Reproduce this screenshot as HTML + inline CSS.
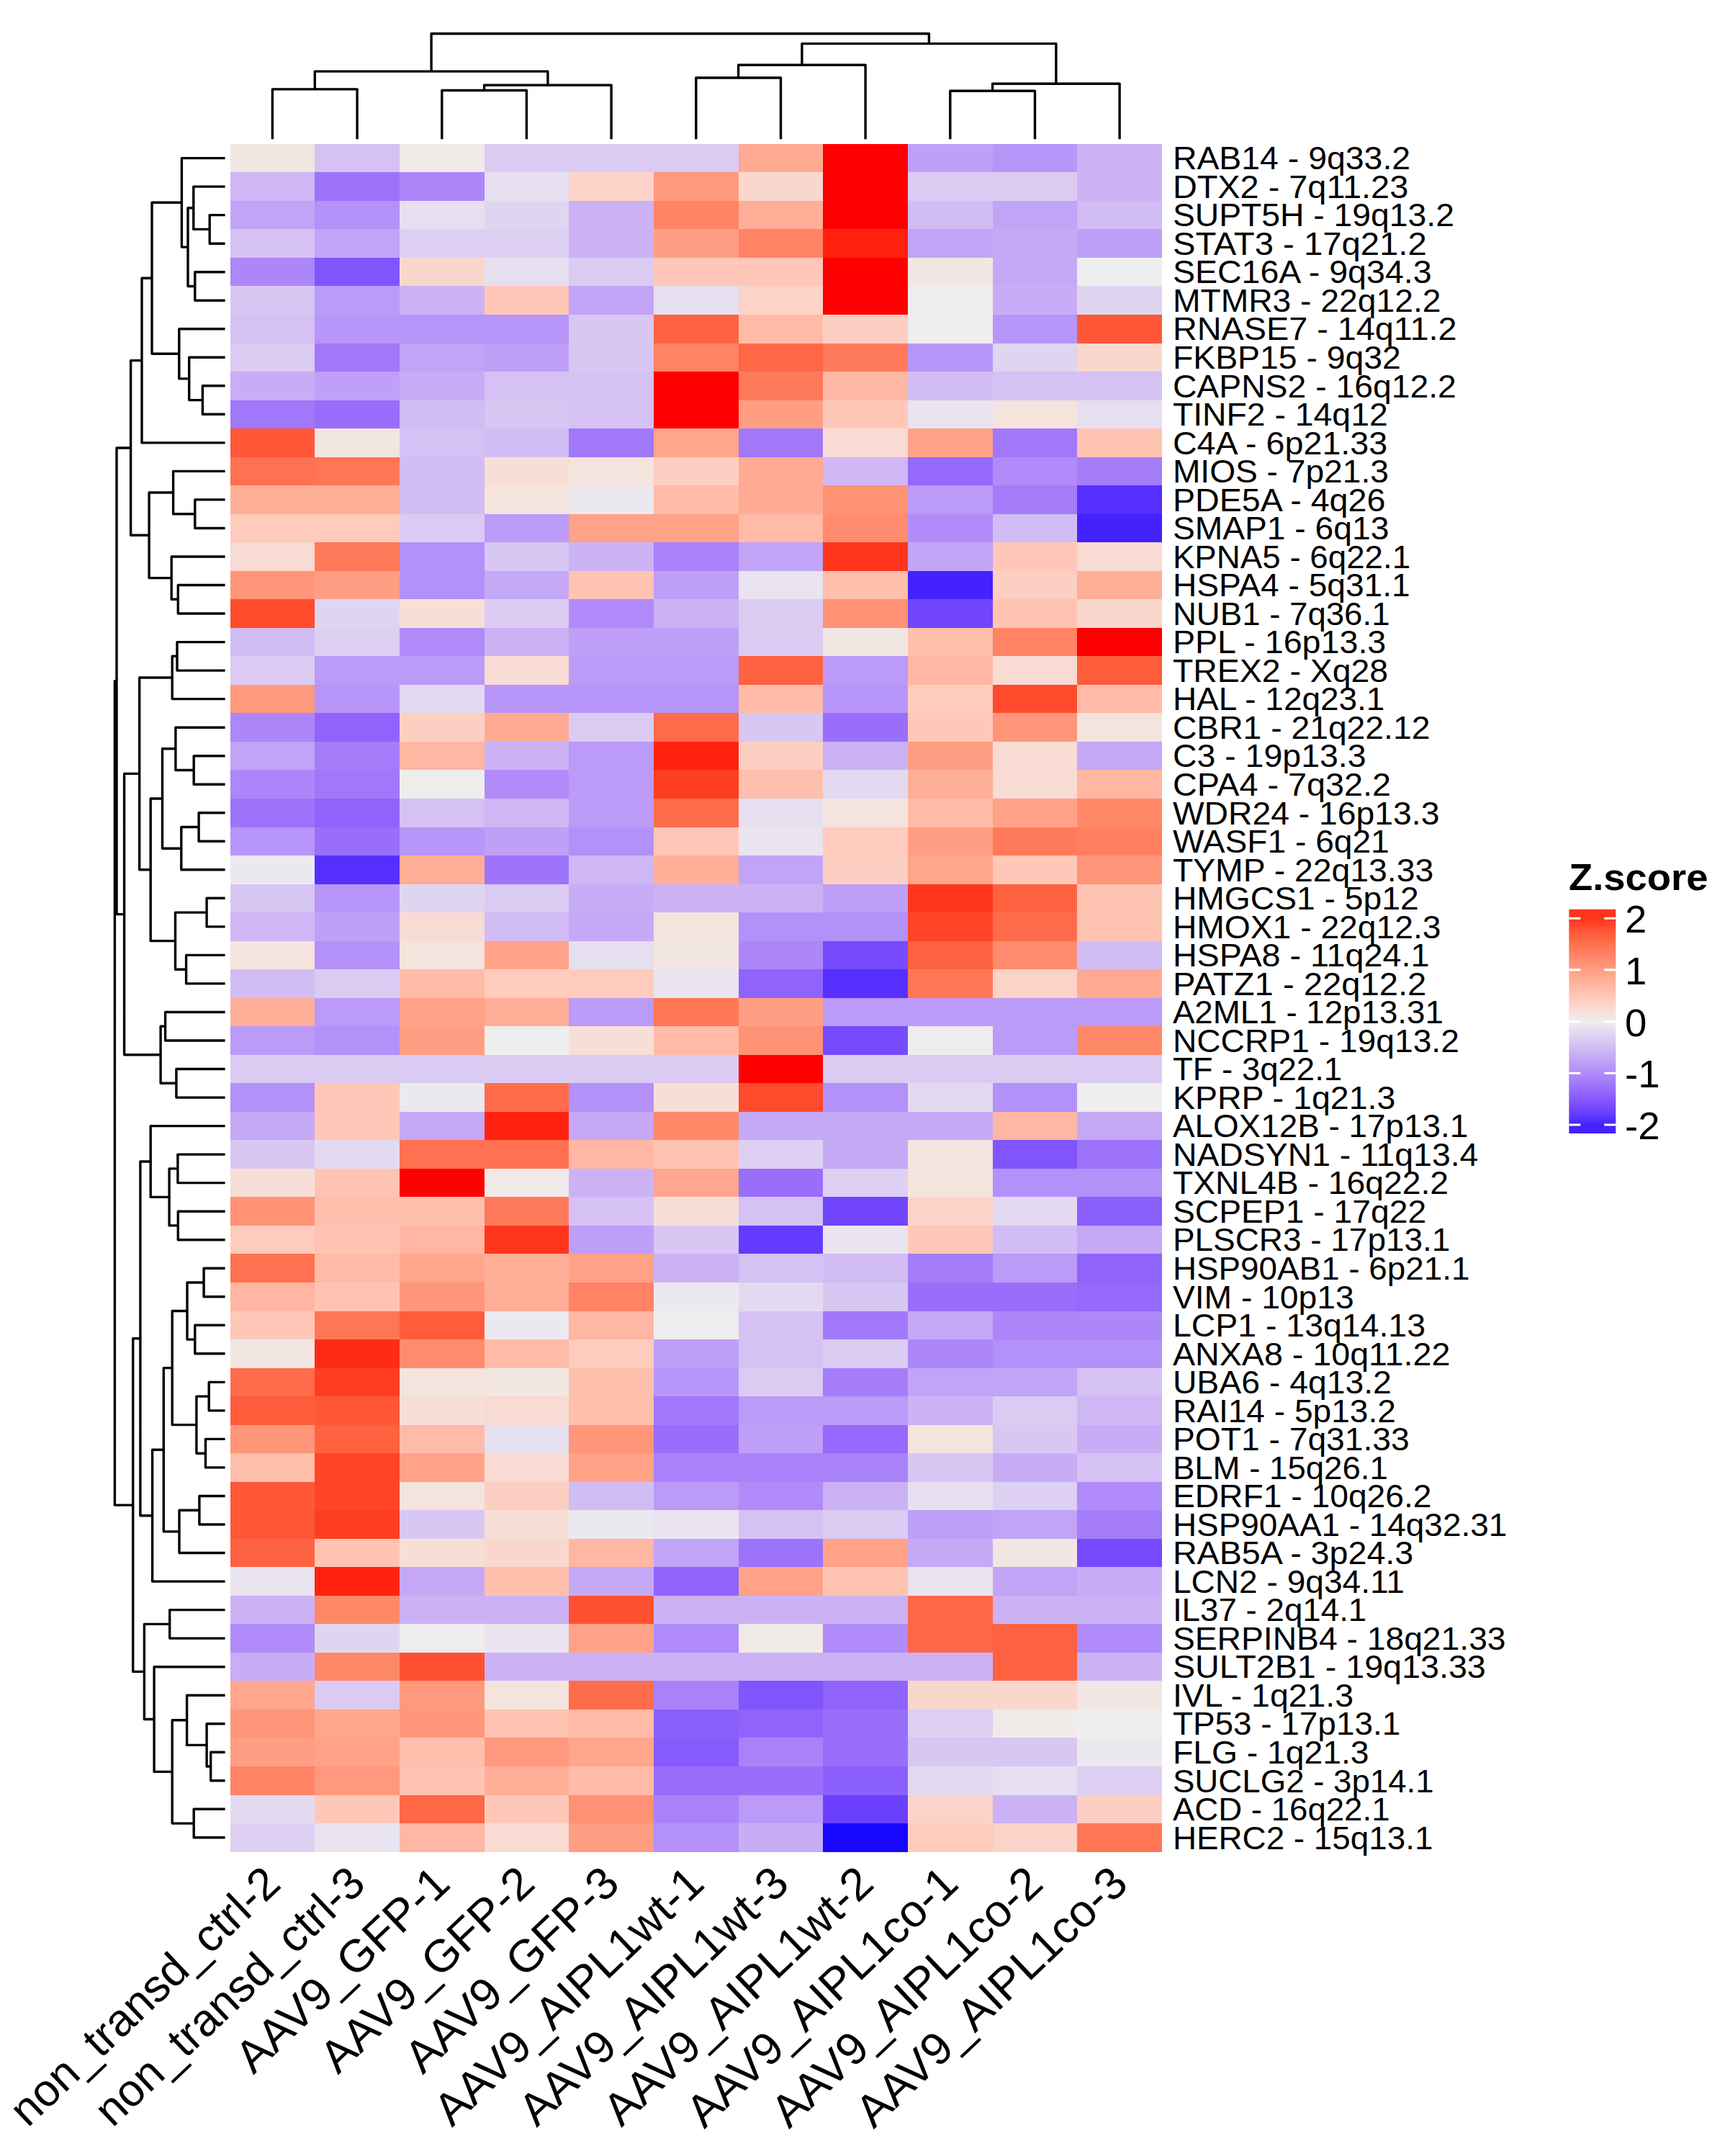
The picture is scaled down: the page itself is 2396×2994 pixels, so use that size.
<!DOCTYPE html>
<html><head><meta charset="utf-8"><title>Heatmap</title>
<style>html,body{margin:0;padding:0;background:#fff}svg{display:block}text{font-family:"Liberation Sans",sans-serif;fill:#000}</style></head>
<body>
<svg width="2396" height="2994" viewBox="0 0 2396 2994">
<rect width="2396" height="2994" fill="#fff"/>
<g id="cells" shape-rendering="crispEdges">
<rect x="319.60" y="199.80" width="118.17" height="40.03" fill="#F2E6E3"/><rect x="437.27" y="199.80" width="118.17" height="40.03" fill="#D5C1F4"/><rect x="554.94" y="199.80" width="118.17" height="40.03" fill="#F0EAE9"/><rect x="672.61" y="199.80" width="353.51" height="40.03" fill="#DBCBF3"/><rect x="1025.62" y="199.80" width="118.17" height="40.03" fill="#FFAA93"/><rect x="1143.29" y="199.80" width="118.17" height="40.03" fill="#FF0000"/><rect x="1260.96" y="199.80" width="118.17" height="40.03" fill="#BF9FF7"/><rect x="1378.63" y="199.80" width="118.17" height="40.03" fill="#B895F8"/><rect x="1496.30" y="199.80" width="117.67" height="40.03" fill="#CCB2F5"/>
<rect x="319.60" y="239.33" width="118.17" height="40.03" fill="#CFB7F5"/><rect x="437.27" y="239.33" width="118.17" height="40.03" fill="#9D73FB"/><rect x="554.94" y="239.33" width="118.17" height="40.03" fill="#AD86F9"/><rect x="672.61" y="239.33" width="118.17" height="40.03" fill="#E6DFF0"/><rect x="790.28" y="239.33" width="118.17" height="40.03" fill="#FCD3C8"/><rect x="907.95" y="239.33" width="118.17" height="40.03" fill="#FF997E"/><rect x="1025.62" y="239.33" width="118.17" height="40.03" fill="#FAD7CD"/><rect x="1143.29" y="239.33" width="118.17" height="40.03" fill="#FF0000"/><rect x="1260.96" y="239.33" width="235.84" height="40.03" fill="#DBCBF3"/><rect x="1496.30" y="239.33" width="117.67" height="40.03" fill="#CCB2F5"/>
<rect x="319.60" y="278.86" width="118.17" height="40.03" fill="#C2A4F7"/><rect x="437.27" y="278.86" width="118.17" height="40.03" fill="#B490F9"/><rect x="554.94" y="278.86" width="118.17" height="40.03" fill="#E6DFF0"/><rect x="672.61" y="278.86" width="118.17" height="40.03" fill="#E0D5F1"/><rect x="790.28" y="278.86" width="118.17" height="40.03" fill="#CCB2F5"/><rect x="907.95" y="278.86" width="118.17" height="40.03" fill="#FF8364"/><rect x="1025.62" y="278.86" width="118.17" height="40.03" fill="#FFAE98"/><rect x="1143.29" y="278.86" width="118.17" height="40.03" fill="#FF0000"/><rect x="1260.96" y="278.86" width="118.17" height="40.03" fill="#D2BCF4"/><rect x="1378.63" y="278.86" width="118.17" height="40.03" fill="#C2A4F7"/><rect x="1496.30" y="278.86" width="117.67" height="40.03" fill="#D2BCF4"/>
<rect x="319.60" y="318.39" width="118.17" height="40.03" fill="#D5C1F4"/><rect x="437.27" y="318.39" width="118.17" height="40.03" fill="#C2A4F7"/><rect x="554.94" y="318.39" width="235.84" height="40.03" fill="#DED0F2"/><rect x="790.28" y="318.39" width="118.17" height="40.03" fill="#CCB2F5"/><rect x="907.95" y="318.39" width="118.17" height="40.03" fill="#FF9E83"/><rect x="1025.62" y="318.39" width="118.17" height="40.03" fill="#FF8364"/><rect x="1143.29" y="318.39" width="118.17" height="40.03" fill="#FF200D"/><rect x="1260.96" y="318.39" width="118.17" height="40.03" fill="#C2A4F7"/><rect x="1378.63" y="318.39" width="118.17" height="40.03" fill="#C5A9F6"/><rect x="1496.30" y="318.39" width="117.67" height="40.03" fill="#BF9FF7"/>
<rect x="319.60" y="357.92" width="118.17" height="40.03" fill="#AD86F9"/><rect x="437.27" y="357.92" width="118.17" height="40.03" fill="#8155FD"/><rect x="554.94" y="357.92" width="118.17" height="40.03" fill="#FAD7CD"/><rect x="672.61" y="357.92" width="118.17" height="40.03" fill="#E6DFF0"/><rect x="790.28" y="357.92" width="118.17" height="40.03" fill="#DBCBF3"/><rect x="907.95" y="357.92" width="235.84" height="40.03" fill="#FFC7B8"/><rect x="1143.29" y="357.92" width="118.17" height="40.03" fill="#FF0000"/><rect x="1260.96" y="357.92" width="118.17" height="40.03" fill="#F2E6E3"/><rect x="1378.63" y="357.92" width="118.17" height="40.03" fill="#C5A9F6"/><rect x="1496.30" y="357.92" width="117.67" height="40.03" fill="#EEEEEE"/>
<rect x="319.60" y="397.45" width="118.17" height="40.03" fill="#D8C6F3"/><rect x="437.27" y="397.45" width="118.17" height="40.03" fill="#BB9AF8"/><rect x="554.94" y="397.45" width="118.17" height="40.03" fill="#CCB2F5"/><rect x="672.61" y="397.45" width="118.17" height="40.03" fill="#FFC7B8"/><rect x="790.28" y="397.45" width="118.17" height="40.03" fill="#C2A4F7"/><rect x="907.95" y="397.45" width="118.17" height="40.03" fill="#E6DFF0"/><rect x="1025.62" y="397.45" width="118.17" height="40.03" fill="#FCD3C8"/><rect x="1143.29" y="397.45" width="118.17" height="40.03" fill="#FF0000"/><rect x="1260.96" y="397.45" width="118.17" height="40.03" fill="#EEEEEE"/><rect x="1378.63" y="397.45" width="118.17" height="40.03" fill="#C8ADF6"/><rect x="1496.30" y="397.45" width="117.67" height="40.03" fill="#E0D5F1"/>
<rect x="319.60" y="436.98" width="118.17" height="40.03" fill="#D5C1F4"/><rect x="437.27" y="436.98" width="353.51" height="40.03" fill="#B895F8"/><rect x="790.28" y="436.98" width="118.17" height="40.03" fill="#D8C6F3"/><rect x="907.95" y="436.98" width="118.17" height="40.03" fill="#FF6241"/><rect x="1025.62" y="436.98" width="118.17" height="40.03" fill="#FFBBA8"/><rect x="1143.29" y="436.98" width="118.17" height="40.03" fill="#FDCFC2"/><rect x="1260.96" y="436.98" width="118.17" height="40.03" fill="#EEEEEE"/><rect x="1378.63" y="436.98" width="118.17" height="40.03" fill="#B895F8"/><rect x="1496.30" y="436.98" width="117.67" height="40.03" fill="#FF5737"/>
<rect x="319.60" y="476.51" width="118.17" height="40.03" fill="#DBCBF3"/><rect x="437.27" y="476.51" width="118.17" height="40.03" fill="#A178FA"/><rect x="554.94" y="476.51" width="118.17" height="40.03" fill="#C2A4F7"/><rect x="672.61" y="476.51" width="118.17" height="40.03" fill="#BF9FF7"/><rect x="790.28" y="476.51" width="118.17" height="40.03" fill="#D8C6F3"/><rect x="907.95" y="476.51" width="118.17" height="40.03" fill="#FF8364"/><rect x="1025.62" y="476.51" width="118.17" height="40.03" fill="#FF6746"/><rect x="1143.29" y="476.51" width="118.17" height="40.03" fill="#FF7A5A"/><rect x="1260.96" y="476.51" width="118.17" height="40.03" fill="#B895F8"/><rect x="1378.63" y="476.51" width="118.17" height="40.03" fill="#E0D5F1"/><rect x="1496.30" y="476.51" width="117.67" height="40.03" fill="#FAD7CD"/>
<rect x="319.60" y="516.04" width="118.17" height="40.03" fill="#C8ADF6"/><rect x="437.27" y="516.04" width="118.17" height="40.03" fill="#BF9FF7"/><rect x="554.94" y="516.04" width="118.17" height="40.03" fill="#C8ADF6"/><rect x="672.61" y="516.04" width="235.84" height="40.03" fill="#D5C1F4"/><rect x="907.95" y="516.04" width="118.17" height="40.03" fill="#FF0000"/><rect x="1025.62" y="516.04" width="118.17" height="40.03" fill="#FF7A5A"/><rect x="1143.29" y="516.04" width="118.17" height="40.03" fill="#FFB6A2"/><rect x="1260.96" y="516.04" width="118.17" height="40.03" fill="#D2BCF4"/><rect x="1378.63" y="516.04" width="235.34" height="40.03" fill="#D5C1F4"/>
<rect x="319.60" y="555.57" width="118.17" height="40.03" fill="#A178FA"/><rect x="437.27" y="555.57" width="118.17" height="40.03" fill="#996EFB"/><rect x="554.94" y="555.57" width="118.17" height="40.03" fill="#D2BCF4"/><rect x="672.61" y="555.57" width="118.17" height="40.03" fill="#D8C6F3"/><rect x="790.28" y="555.57" width="118.17" height="40.03" fill="#D5C1F4"/><rect x="907.95" y="555.57" width="118.17" height="40.03" fill="#FF0000"/><rect x="1025.62" y="555.57" width="118.17" height="40.03" fill="#FF9E83"/><rect x="1143.29" y="555.57" width="118.17" height="40.03" fill="#FFC7B8"/><rect x="1260.96" y="555.57" width="118.17" height="40.03" fill="#E9E4EF"/><rect x="1378.63" y="555.57" width="118.17" height="40.03" fill="#F5E3DE"/><rect x="1496.30" y="555.57" width="117.67" height="40.03" fill="#E6DFF0"/>
<rect x="319.60" y="595.10" width="118.17" height="40.03" fill="#FF5737"/><rect x="437.27" y="595.10" width="118.17" height="40.03" fill="#F2E6E3"/><rect x="554.94" y="595.10" width="118.17" height="40.03" fill="#D5C1F4"/><rect x="672.61" y="595.10" width="118.17" height="40.03" fill="#D2BCF4"/><rect x="790.28" y="595.10" width="118.17" height="40.03" fill="#A178FA"/><rect x="907.95" y="595.10" width="118.17" height="40.03" fill="#FFA68D"/><rect x="1025.62" y="595.10" width="118.17" height="40.03" fill="#A178FA"/><rect x="1143.29" y="595.10" width="118.17" height="40.03" fill="#F8DBD3"/><rect x="1260.96" y="595.10" width="118.17" height="40.03" fill="#FFA288"/><rect x="1378.63" y="595.10" width="118.17" height="40.03" fill="#A178FA"/><rect x="1496.30" y="595.10" width="117.67" height="40.03" fill="#FFC3B2"/>
<rect x="319.60" y="634.63" width="118.17" height="40.03" fill="#FF7150"/><rect x="437.27" y="634.63" width="118.17" height="40.03" fill="#FF7655"/><rect x="554.94" y="634.63" width="118.17" height="40.03" fill="#D2BCF4"/><rect x="672.61" y="634.63" width="118.17" height="40.03" fill="#F7DFD8"/><rect x="790.28" y="634.63" width="118.17" height="40.03" fill="#F5E3DE"/><rect x="907.95" y="634.63" width="118.17" height="40.03" fill="#FDCFC2"/><rect x="1025.62" y="634.63" width="118.17" height="40.03" fill="#FFAA93"/><rect x="1143.29" y="634.63" width="118.17" height="40.03" fill="#CFB7F5"/><rect x="1260.96" y="634.63" width="118.17" height="40.03" fill="#9469FB"/><rect x="1378.63" y="634.63" width="118.17" height="40.03" fill="#B18BF9"/><rect x="1496.30" y="634.63" width="117.67" height="40.03" fill="#A57DFA"/>
<rect x="319.60" y="674.16" width="235.84" height="40.03" fill="#FFAE98"/><rect x="554.94" y="674.16" width="118.17" height="40.03" fill="#D2BCF4"/><rect x="672.61" y="674.16" width="118.17" height="40.03" fill="#F5E3DE"/><rect x="790.28" y="674.16" width="118.17" height="40.03" fill="#EBE9EF"/><rect x="907.95" y="674.16" width="118.17" height="40.03" fill="#FFBBA8"/><rect x="1025.62" y="674.16" width="118.17" height="40.03" fill="#FFAA93"/><rect x="1143.29" y="674.16" width="118.17" height="40.03" fill="#FF9174"/><rect x="1260.96" y="674.16" width="118.17" height="40.03" fill="#BB9AF8"/><rect x="1378.63" y="674.16" width="118.17" height="40.03" fill="#A57DFA"/><rect x="1496.30" y="674.16" width="117.67" height="40.03" fill="#562FFE"/>
<rect x="319.60" y="713.69" width="235.84" height="40.03" fill="#FFCBBD"/><rect x="554.94" y="713.69" width="118.17" height="40.03" fill="#DBCBF3"/><rect x="672.61" y="713.69" width="118.17" height="40.03" fill="#BB9AF8"/><rect x="790.28" y="713.69" width="235.84" height="40.03" fill="#FFA288"/><rect x="1025.62" y="713.69" width="118.17" height="40.03" fill="#FFBBA8"/><rect x="1143.29" y="713.69" width="118.17" height="40.03" fill="#FF8C6E"/><rect x="1260.96" y="713.69" width="118.17" height="40.03" fill="#B18BF9"/><rect x="1378.63" y="713.69" width="118.17" height="40.03" fill="#D2BCF4"/><rect x="1496.30" y="713.69" width="117.67" height="40.03" fill="#4422FE"/>
<rect x="319.60" y="753.22" width="118.17" height="40.03" fill="#F8DBD3"/><rect x="437.27" y="753.22" width="118.17" height="40.03" fill="#FF7A5A"/><rect x="554.94" y="753.22" width="118.17" height="40.03" fill="#B490F9"/><rect x="672.61" y="753.22" width="118.17" height="40.03" fill="#D8C6F3"/><rect x="790.28" y="753.22" width="118.17" height="40.03" fill="#CCB2F5"/><rect x="907.95" y="753.22" width="118.17" height="40.03" fill="#A982FA"/><rect x="1025.62" y="753.22" width="118.17" height="40.03" fill="#C2A4F7"/><rect x="1143.29" y="753.22" width="118.17" height="40.03" fill="#FF351B"/><rect x="1260.96" y="753.22" width="118.17" height="40.03" fill="#C2A4F7"/><rect x="1378.63" y="753.22" width="118.17" height="40.03" fill="#FFC7B8"/><rect x="1496.30" y="753.22" width="117.67" height="40.03" fill="#F8DBD3"/>
<rect x="319.60" y="792.75" width="118.17" height="40.03" fill="#FF9579"/><rect x="437.27" y="792.75" width="118.17" height="40.03" fill="#FF9E83"/><rect x="554.94" y="792.75" width="118.17" height="40.03" fill="#B490F9"/><rect x="672.61" y="792.75" width="118.17" height="40.03" fill="#C5A9F6"/><rect x="790.28" y="792.75" width="118.17" height="40.03" fill="#FFC3B2"/><rect x="907.95" y="792.75" width="118.17" height="40.03" fill="#BF9FF7"/><rect x="1025.62" y="792.75" width="118.17" height="40.03" fill="#E9E4EF"/><rect x="1143.29" y="792.75" width="118.17" height="40.03" fill="#FFBFAD"/><rect x="1260.96" y="792.75" width="118.17" height="40.03" fill="#4422FE"/><rect x="1378.63" y="792.75" width="118.17" height="40.03" fill="#FDCFC2"/><rect x="1496.30" y="792.75" width="117.67" height="40.03" fill="#FFAE98"/>
<rect x="319.60" y="832.28" width="118.17" height="40.03" fill="#FF4B2C"/><rect x="437.27" y="832.28" width="118.17" height="40.03" fill="#E0D5F1"/><rect x="554.94" y="832.28" width="118.17" height="40.03" fill="#F7DFD8"/><rect x="672.61" y="832.28" width="118.17" height="40.03" fill="#DBCBF3"/><rect x="790.28" y="832.28" width="118.17" height="40.03" fill="#B18BF9"/><rect x="907.95" y="832.28" width="118.17" height="40.03" fill="#CCB2F5"/><rect x="1025.62" y="832.28" width="118.17" height="40.03" fill="#DBCBF3"/><rect x="1143.29" y="832.28" width="118.17" height="40.03" fill="#FF9174"/><rect x="1260.96" y="832.28" width="118.17" height="40.03" fill="#7146FD"/><rect x="1378.63" y="832.28" width="118.17" height="40.03" fill="#FFC3B2"/><rect x="1496.30" y="832.28" width="117.67" height="40.03" fill="#FAD7CD"/>
<rect x="319.60" y="871.81" width="118.17" height="40.03" fill="#D2BCF4"/><rect x="437.27" y="871.81" width="118.17" height="40.03" fill="#DED0F2"/><rect x="554.94" y="871.81" width="118.17" height="40.03" fill="#B18BF9"/><rect x="672.61" y="871.81" width="118.17" height="40.03" fill="#CCB2F5"/><rect x="790.28" y="871.81" width="235.84" height="40.03" fill="#BF9FF7"/><rect x="1025.62" y="871.81" width="118.17" height="40.03" fill="#DBCBF3"/><rect x="1143.29" y="871.81" width="118.17" height="40.03" fill="#F2E6E3"/><rect x="1260.96" y="871.81" width="118.17" height="40.03" fill="#FFBFAD"/><rect x="1378.63" y="871.81" width="118.17" height="40.03" fill="#FF8364"/><rect x="1496.30" y="871.81" width="117.67" height="40.03" fill="#FF0000"/>
<rect x="319.60" y="911.34" width="118.17" height="40.03" fill="#DBCBF3"/><rect x="437.27" y="911.34" width="235.84" height="40.03" fill="#BB9AF8"/><rect x="672.61" y="911.34" width="118.17" height="40.03" fill="#F8DBD3"/><rect x="790.28" y="911.34" width="235.84" height="40.03" fill="#BB9AF8"/><rect x="1025.62" y="911.34" width="118.17" height="40.03" fill="#FF6241"/><rect x="1143.29" y="911.34" width="118.17" height="40.03" fill="#BB9AF8"/><rect x="1260.96" y="911.34" width="118.17" height="40.03" fill="#FFB6A2"/><rect x="1378.63" y="911.34" width="118.17" height="40.03" fill="#F8DBD3"/><rect x="1496.30" y="911.34" width="117.67" height="40.03" fill="#FF5C3C"/>
<rect x="319.60" y="950.87" width="118.17" height="40.03" fill="#FF997E"/><rect x="437.27" y="950.87" width="118.17" height="40.03" fill="#B895F8"/><rect x="554.94" y="950.87" width="118.17" height="40.03" fill="#E3DAF1"/><rect x="672.61" y="950.87" width="353.51" height="40.03" fill="#B895F8"/><rect x="1025.62" y="950.87" width="118.17" height="40.03" fill="#FFBBA8"/><rect x="1143.29" y="950.87" width="118.17" height="40.03" fill="#B895F8"/><rect x="1260.96" y="950.87" width="118.17" height="40.03" fill="#FFCBBD"/><rect x="1378.63" y="950.87" width="118.17" height="40.03" fill="#FF4B2C"/><rect x="1496.30" y="950.87" width="117.67" height="40.03" fill="#FFBBA8"/>
<rect x="319.60" y="990.40" width="118.17" height="40.03" fill="#AD86F9"/><rect x="437.27" y="990.40" width="118.17" height="40.03" fill="#9064FC"/><rect x="554.94" y="990.40" width="118.17" height="40.03" fill="#FDCFC2"/><rect x="672.61" y="990.40" width="118.17" height="40.03" fill="#FFAA93"/><rect x="790.28" y="990.40" width="118.17" height="40.03" fill="#DBCBF3"/><rect x="907.95" y="990.40" width="118.17" height="40.03" fill="#FF6C4B"/><rect x="1025.62" y="990.40" width="118.17" height="40.03" fill="#D8C6F3"/><rect x="1143.29" y="990.40" width="118.17" height="40.03" fill="#996EFB"/><rect x="1260.96" y="990.40" width="118.17" height="40.03" fill="#FFC7B8"/><rect x="1378.63" y="990.40" width="118.17" height="40.03" fill="#FF9579"/><rect x="1496.30" y="990.40" width="117.67" height="40.03" fill="#F5E3DE"/>
<rect x="319.60" y="1029.93" width="118.17" height="40.03" fill="#C2A4F7"/><rect x="437.27" y="1029.93" width="118.17" height="40.03" fill="#A57DFA"/><rect x="554.94" y="1029.93" width="118.17" height="40.03" fill="#FFB6A2"/><rect x="672.61" y="1029.93" width="118.17" height="40.03" fill="#CCB2F5"/><rect x="790.28" y="1029.93" width="118.17" height="40.03" fill="#BB9AF8"/><rect x="907.95" y="1029.93" width="118.17" height="40.03" fill="#FF230F"/><rect x="1025.62" y="1029.93" width="118.17" height="40.03" fill="#FDCFC2"/><rect x="1143.29" y="1029.93" width="118.17" height="40.03" fill="#CCB2F5"/><rect x="1260.96" y="1029.93" width="118.17" height="40.03" fill="#FF9E83"/><rect x="1378.63" y="1029.93" width="118.17" height="40.03" fill="#F8DBD3"/><rect x="1496.30" y="1029.93" width="117.67" height="40.03" fill="#C5A9F6"/>
<rect x="319.60" y="1069.46" width="118.17" height="40.03" fill="#AD86F9"/><rect x="437.27" y="1069.46" width="118.17" height="40.03" fill="#A178FA"/><rect x="554.94" y="1069.46" width="118.17" height="40.03" fill="#EFEDEC"/><rect x="672.61" y="1069.46" width="118.17" height="40.03" fill="#B18BF9"/><rect x="790.28" y="1069.46" width="118.17" height="40.03" fill="#BB9AF8"/><rect x="907.95" y="1069.46" width="118.17" height="40.03" fill="#FF3D21"/><rect x="1025.62" y="1069.46" width="118.17" height="40.03" fill="#FFBFAD"/><rect x="1143.29" y="1069.46" width="118.17" height="40.03" fill="#E3DAF1"/><rect x="1260.96" y="1069.46" width="118.17" height="40.03" fill="#FFAE98"/><rect x="1378.63" y="1069.46" width="118.17" height="40.03" fill="#F8DBD3"/><rect x="1496.30" y="1069.46" width="117.67" height="40.03" fill="#FFB6A2"/>
<rect x="319.60" y="1108.99" width="118.17" height="40.03" fill="#9D73FB"/><rect x="437.27" y="1108.99" width="118.17" height="40.03" fill="#9064FC"/><rect x="554.94" y="1108.99" width="118.17" height="40.03" fill="#D5C1F4"/><rect x="672.61" y="1108.99" width="118.17" height="40.03" fill="#CFB7F5"/><rect x="790.28" y="1108.99" width="118.17" height="40.03" fill="#BB9AF8"/><rect x="907.95" y="1108.99" width="118.17" height="40.03" fill="#FF6C4B"/><rect x="1025.62" y="1108.99" width="118.17" height="40.03" fill="#E6DFF0"/><rect x="1143.29" y="1108.99" width="118.17" height="40.03" fill="#F5E3DE"/><rect x="1260.96" y="1108.99" width="118.17" height="40.03" fill="#FFBBA8"/><rect x="1378.63" y="1108.99" width="118.17" height="40.03" fill="#FFA288"/><rect x="1496.30" y="1108.99" width="117.67" height="40.03" fill="#FF8869"/>
<rect x="319.60" y="1148.52" width="118.17" height="40.03" fill="#B895F8"/><rect x="437.27" y="1148.52" width="118.17" height="40.03" fill="#996EFB"/><rect x="554.94" y="1148.52" width="118.17" height="40.03" fill="#B895F8"/><rect x="672.61" y="1148.52" width="118.17" height="40.03" fill="#BF9FF7"/><rect x="790.28" y="1148.52" width="118.17" height="40.03" fill="#B490F9"/><rect x="907.95" y="1148.52" width="118.17" height="40.03" fill="#FFC7B8"/><rect x="1025.62" y="1148.52" width="118.17" height="40.03" fill="#E9E4EF"/><rect x="1143.29" y="1148.52" width="118.17" height="40.03" fill="#FFCBBD"/><rect x="1260.96" y="1148.52" width="118.17" height="40.03" fill="#FF9E83"/><rect x="1378.63" y="1148.52" width="118.17" height="40.03" fill="#FF7A5A"/><rect x="1496.30" y="1148.52" width="117.67" height="40.03" fill="#FF7F5F"/>
<rect x="319.60" y="1188.05" width="118.17" height="40.03" fill="#EBE9EF"/><rect x="437.27" y="1188.05" width="118.17" height="40.03" fill="#562FFE"/><rect x="554.94" y="1188.05" width="118.17" height="40.03" fill="#FFAE98"/><rect x="672.61" y="1188.05" width="118.17" height="40.03" fill="#9D73FB"/><rect x="790.28" y="1188.05" width="118.17" height="40.03" fill="#CFB7F5"/><rect x="907.95" y="1188.05" width="118.17" height="40.03" fill="#FFAE98"/><rect x="1025.62" y="1188.05" width="118.17" height="40.03" fill="#C2A4F7"/><rect x="1143.29" y="1188.05" width="118.17" height="40.03" fill="#FDCFC2"/><rect x="1260.96" y="1188.05" width="118.17" height="40.03" fill="#FFA68D"/><rect x="1378.63" y="1188.05" width="118.17" height="40.03" fill="#FFC7B8"/><rect x="1496.30" y="1188.05" width="117.67" height="40.03" fill="#FF9579"/>
<rect x="319.60" y="1227.58" width="118.17" height="40.03" fill="#D8C6F3"/><rect x="437.27" y="1227.58" width="118.17" height="40.03" fill="#B895F8"/><rect x="554.94" y="1227.58" width="118.17" height="40.03" fill="#E0D5F1"/><rect x="672.61" y="1227.58" width="118.17" height="40.03" fill="#DBCBF3"/><rect x="790.28" y="1227.58" width="118.17" height="40.03" fill="#C8ADF6"/><rect x="907.95" y="1227.58" width="235.84" height="40.03" fill="#CCB2F5"/><rect x="1143.29" y="1227.58" width="118.17" height="40.03" fill="#BF9FF7"/><rect x="1260.96" y="1227.58" width="118.17" height="40.03" fill="#FF351B"/><rect x="1378.63" y="1227.58" width="118.17" height="40.03" fill="#FF6241"/><rect x="1496.30" y="1227.58" width="117.67" height="40.03" fill="#FFC3B2"/>
<rect x="319.60" y="1267.11" width="118.17" height="40.03" fill="#CFB7F5"/><rect x="437.27" y="1267.11" width="118.17" height="40.03" fill="#BF9FF7"/><rect x="554.94" y="1267.11" width="118.17" height="40.03" fill="#F8DBD3"/><rect x="672.61" y="1267.11" width="118.17" height="40.03" fill="#D2BCF4"/><rect x="790.28" y="1267.11" width="118.17" height="40.03" fill="#C5A9F6"/><rect x="907.95" y="1267.11" width="118.17" height="40.03" fill="#F5E3DE"/><rect x="1025.62" y="1267.11" width="235.84" height="40.03" fill="#B490F9"/><rect x="1260.96" y="1267.11" width="118.17" height="40.03" fill="#FF4427"/><rect x="1378.63" y="1267.11" width="118.17" height="40.03" fill="#FF6C4B"/><rect x="1496.30" y="1267.11" width="117.67" height="40.03" fill="#FFC3B2"/>
<rect x="319.60" y="1306.64" width="118.17" height="40.03" fill="#F5E3DE"/><rect x="437.27" y="1306.64" width="118.17" height="40.03" fill="#B490F9"/><rect x="554.94" y="1306.64" width="118.17" height="40.03" fill="#F5E3DE"/><rect x="672.61" y="1306.64" width="118.17" height="40.03" fill="#FFA288"/><rect x="790.28" y="1306.64" width="118.17" height="40.03" fill="#E6DFF0"/><rect x="907.95" y="1306.64" width="118.17" height="40.03" fill="#F2E6E3"/><rect x="1025.62" y="1306.64" width="118.17" height="40.03" fill="#AD86F9"/><rect x="1143.29" y="1306.64" width="118.17" height="40.03" fill="#774BFD"/><rect x="1260.96" y="1306.64" width="118.17" height="40.03" fill="#FF6241"/><rect x="1378.63" y="1306.64" width="118.17" height="40.03" fill="#FF8C6E"/><rect x="1496.30" y="1306.64" width="117.67" height="40.03" fill="#D2BCF4"/>
<rect x="319.60" y="1346.17" width="118.17" height="40.03" fill="#D2BCF4"/><rect x="437.27" y="1346.17" width="118.17" height="40.03" fill="#DBCBF3"/><rect x="554.94" y="1346.17" width="118.17" height="40.03" fill="#FFBBA8"/><rect x="672.61" y="1346.17" width="235.84" height="40.03" fill="#FFCBBD"/><rect x="907.95" y="1346.17" width="118.17" height="40.03" fill="#E9E4EF"/><rect x="1025.62" y="1346.17" width="118.17" height="40.03" fill="#9064FC"/><rect x="1143.29" y="1346.17" width="118.17" height="40.03" fill="#562FFE"/><rect x="1260.96" y="1346.17" width="118.17" height="40.03" fill="#FF7655"/><rect x="1378.63" y="1346.17" width="118.17" height="40.03" fill="#FCD3C8"/><rect x="1496.30" y="1346.17" width="117.67" height="40.03" fill="#FFAA93"/>
<rect x="319.60" y="1385.70" width="118.17" height="40.03" fill="#FFAE98"/><rect x="437.27" y="1385.70" width="118.17" height="40.03" fill="#BB9AF8"/><rect x="554.94" y="1385.70" width="118.17" height="40.03" fill="#FFA288"/><rect x="672.61" y="1385.70" width="118.17" height="40.03" fill="#FFAE98"/><rect x="790.28" y="1385.70" width="118.17" height="40.03" fill="#BB9AF8"/><rect x="907.95" y="1385.70" width="118.17" height="40.03" fill="#FF7655"/><rect x="1025.62" y="1385.70" width="118.17" height="40.03" fill="#FF9E83"/><rect x="1143.29" y="1385.70" width="470.68" height="40.03" fill="#BB9AF8"/>
<rect x="319.60" y="1425.23" width="118.17" height="40.03" fill="#BB9AF8"/><rect x="437.27" y="1425.23" width="118.17" height="40.03" fill="#B490F9"/><rect x="554.94" y="1425.23" width="118.17" height="40.03" fill="#FF9E83"/><rect x="672.61" y="1425.23" width="118.17" height="40.03" fill="#EEEEEE"/><rect x="790.28" y="1425.23" width="118.17" height="40.03" fill="#F7DFD8"/><rect x="907.95" y="1425.23" width="118.17" height="40.03" fill="#FFBBA8"/><rect x="1025.62" y="1425.23" width="118.17" height="40.03" fill="#FF9174"/><rect x="1143.29" y="1425.23" width="118.17" height="40.03" fill="#774BFD"/><rect x="1260.96" y="1425.23" width="118.17" height="40.03" fill="#EDECEE"/><rect x="1378.63" y="1425.23" width="118.17" height="40.03" fill="#BB9AF8"/><rect x="1496.30" y="1425.23" width="117.67" height="40.03" fill="#FF8869"/>
<rect x="319.60" y="1464.76" width="706.52" height="40.03" fill="#DBCBF3"/><rect x="1025.62" y="1464.76" width="118.17" height="40.03" fill="#FF0000"/><rect x="1143.29" y="1464.76" width="470.68" height="40.03" fill="#DBCBF3"/>
<rect x="319.60" y="1504.29" width="118.17" height="40.03" fill="#B490F9"/><rect x="437.27" y="1504.29" width="118.17" height="40.03" fill="#FFC7B8"/><rect x="554.94" y="1504.29" width="118.17" height="40.03" fill="#EBE9EF"/><rect x="672.61" y="1504.29" width="118.17" height="40.03" fill="#FF6C4B"/><rect x="790.28" y="1504.29" width="118.17" height="40.03" fill="#B490F9"/><rect x="907.95" y="1504.29" width="118.17" height="40.03" fill="#F7DFD8"/><rect x="1025.62" y="1504.29" width="118.17" height="40.03" fill="#FF4B2C"/><rect x="1143.29" y="1504.29" width="118.17" height="40.03" fill="#B490F9"/><rect x="1260.96" y="1504.29" width="118.17" height="40.03" fill="#E3DAF1"/><rect x="1378.63" y="1504.29" width="118.17" height="40.03" fill="#B490F9"/><rect x="1496.30" y="1504.29" width="117.67" height="40.03" fill="#EEEEEE"/>
<rect x="319.60" y="1543.82" width="118.17" height="40.03" fill="#C5A9F6"/><rect x="437.27" y="1543.82" width="118.17" height="40.03" fill="#FFC7B8"/><rect x="554.94" y="1543.82" width="118.17" height="40.03" fill="#C5A9F6"/><rect x="672.61" y="1543.82" width="118.17" height="40.03" fill="#FF230F"/><rect x="790.28" y="1543.82" width="118.17" height="40.03" fill="#C5A9F6"/><rect x="907.95" y="1543.82" width="118.17" height="40.03" fill="#FF8869"/><rect x="1025.62" y="1543.82" width="353.51" height="40.03" fill="#C5A9F6"/><rect x="1378.63" y="1543.82" width="118.17" height="40.03" fill="#FFB6A2"/><rect x="1496.30" y="1543.82" width="117.67" height="40.03" fill="#C5A9F6"/>
<rect x="319.60" y="1583.35" width="118.17" height="40.03" fill="#D8C6F3"/><rect x="437.27" y="1583.35" width="118.17" height="40.03" fill="#E3DAF1"/><rect x="554.94" y="1583.35" width="235.84" height="40.03" fill="#FF7150"/><rect x="790.28" y="1583.35" width="118.17" height="40.03" fill="#FFB6A2"/><rect x="907.95" y="1583.35" width="118.17" height="40.03" fill="#FFC3B2"/><rect x="1025.62" y="1583.35" width="118.17" height="40.03" fill="#DED0F2"/><rect x="1143.29" y="1583.35" width="118.17" height="40.03" fill="#C5A9F6"/><rect x="1260.96" y="1583.35" width="118.17" height="40.03" fill="#F5E3DE"/><rect x="1378.63" y="1583.35" width="118.17" height="40.03" fill="#8155FD"/><rect x="1496.30" y="1583.35" width="117.67" height="40.03" fill="#9D73FB"/>
<rect x="319.60" y="1622.88" width="118.17" height="40.03" fill="#F7DFD8"/><rect x="437.27" y="1622.88" width="118.17" height="40.03" fill="#FFC3B2"/><rect x="554.94" y="1622.88" width="118.17" height="40.03" fill="#FF0000"/><rect x="672.61" y="1622.88" width="118.17" height="40.03" fill="#F0EAE9"/><rect x="790.28" y="1622.88" width="118.17" height="40.03" fill="#CCB2F5"/><rect x="907.95" y="1622.88" width="118.17" height="40.03" fill="#FFA68D"/><rect x="1025.62" y="1622.88" width="118.17" height="40.03" fill="#996EFB"/><rect x="1143.29" y="1622.88" width="118.17" height="40.03" fill="#DED0F2"/><rect x="1260.96" y="1622.88" width="118.17" height="40.03" fill="#F5E3DE"/><rect x="1378.63" y="1622.88" width="235.34" height="40.03" fill="#B490F9"/>
<rect x="319.60" y="1662.41" width="118.17" height="40.03" fill="#FF9174"/><rect x="437.27" y="1662.41" width="235.84" height="40.03" fill="#FFBFAD"/><rect x="672.61" y="1662.41" width="118.17" height="40.03" fill="#FF7A5A"/><rect x="790.28" y="1662.41" width="118.17" height="40.03" fill="#D5C1F4"/><rect x="907.95" y="1662.41" width="118.17" height="40.03" fill="#F7DFD8"/><rect x="1025.62" y="1662.41" width="118.17" height="40.03" fill="#D5C1F4"/><rect x="1143.29" y="1662.41" width="118.17" height="40.03" fill="#7146FD"/><rect x="1260.96" y="1662.41" width="118.17" height="40.03" fill="#FCD3C8"/><rect x="1378.63" y="1662.41" width="118.17" height="40.03" fill="#E3DAF1"/><rect x="1496.30" y="1662.41" width="117.67" height="40.03" fill="#8B5FFC"/>
<rect x="319.60" y="1701.94" width="118.17" height="40.03" fill="#FFCBBD"/><rect x="437.27" y="1701.94" width="118.17" height="40.03" fill="#FFC3B2"/><rect x="554.94" y="1701.94" width="118.17" height="40.03" fill="#FFB6A2"/><rect x="672.61" y="1701.94" width="118.17" height="40.03" fill="#FF351B"/><rect x="790.28" y="1701.94" width="118.17" height="40.03" fill="#BF9FF7"/><rect x="907.95" y="1701.94" width="118.17" height="40.03" fill="#D8C6F3"/><rect x="1025.62" y="1701.94" width="118.17" height="40.03" fill="#643BFE"/><rect x="1143.29" y="1701.94" width="118.17" height="40.03" fill="#E9E4EF"/><rect x="1260.96" y="1701.94" width="118.17" height="40.03" fill="#FFC7B8"/><rect x="1378.63" y="1701.94" width="118.17" height="40.03" fill="#D2BCF4"/><rect x="1496.30" y="1701.94" width="117.67" height="40.03" fill="#C5A9F6"/>
<rect x="319.60" y="1741.47" width="118.17" height="40.03" fill="#FF7150"/><rect x="437.27" y="1741.47" width="118.17" height="40.03" fill="#FFBBA8"/><rect x="554.94" y="1741.47" width="118.17" height="40.03" fill="#FFA68D"/><rect x="672.61" y="1741.47" width="118.17" height="40.03" fill="#FFAE98"/><rect x="790.28" y="1741.47" width="118.17" height="40.03" fill="#FFA288"/><rect x="907.95" y="1741.47" width="118.17" height="40.03" fill="#CCB2F5"/><rect x="1025.62" y="1741.47" width="118.17" height="40.03" fill="#D5C1F4"/><rect x="1143.29" y="1741.47" width="118.17" height="40.03" fill="#D2BCF4"/><rect x="1260.96" y="1741.47" width="118.17" height="40.03" fill="#A57DFA"/><rect x="1378.63" y="1741.47" width="118.17" height="40.03" fill="#BB9AF8"/><rect x="1496.30" y="1741.47" width="117.67" height="40.03" fill="#9064FC"/>
<rect x="319.60" y="1781.00" width="118.17" height="40.03" fill="#FFB6A2"/><rect x="437.27" y="1781.00" width="118.17" height="40.03" fill="#FFC3B2"/><rect x="554.94" y="1781.00" width="118.17" height="40.03" fill="#FF9579"/><rect x="672.61" y="1781.00" width="118.17" height="40.03" fill="#FFAE98"/><rect x="790.28" y="1781.00" width="118.17" height="40.03" fill="#FF8364"/><rect x="907.95" y="1781.00" width="118.17" height="40.03" fill="#EBE9EF"/><rect x="1025.62" y="1781.00" width="118.17" height="40.03" fill="#E3DAF1"/><rect x="1143.29" y="1781.00" width="118.17" height="40.03" fill="#D8C6F3"/><rect x="1260.96" y="1781.00" width="235.84" height="40.03" fill="#996EFB"/><rect x="1496.30" y="1781.00" width="117.67" height="40.03" fill="#9469FB"/>
<rect x="319.60" y="1820.53" width="118.17" height="40.03" fill="#FFC7B8"/><rect x="437.27" y="1820.53" width="118.17" height="40.03" fill="#FF7655"/><rect x="554.94" y="1820.53" width="118.17" height="40.03" fill="#FF5C3C"/><rect x="672.61" y="1820.53" width="118.17" height="40.03" fill="#EBE9EF"/><rect x="790.28" y="1820.53" width="118.17" height="40.03" fill="#FFB6A2"/><rect x="907.95" y="1820.53" width="118.17" height="40.03" fill="#EEEEEE"/><rect x="1025.62" y="1820.53" width="118.17" height="40.03" fill="#D5C1F4"/><rect x="1143.29" y="1820.53" width="118.17" height="40.03" fill="#A178FA"/><rect x="1260.96" y="1820.53" width="118.17" height="40.03" fill="#C5A9F6"/><rect x="1378.63" y="1820.53" width="235.34" height="40.03" fill="#AD86F9"/>
<rect x="319.60" y="1860.06" width="118.17" height="40.03" fill="#F2E6E3"/><rect x="437.27" y="1860.06" width="118.17" height="40.03" fill="#FF2C15"/><rect x="554.94" y="1860.06" width="118.17" height="40.03" fill="#FF8C6E"/><rect x="672.61" y="1860.06" width="118.17" height="40.03" fill="#FFBBA8"/><rect x="790.28" y="1860.06" width="118.17" height="40.03" fill="#FFCBBD"/><rect x="907.95" y="1860.06" width="118.17" height="40.03" fill="#BF9FF7"/><rect x="1025.62" y="1860.06" width="118.17" height="40.03" fill="#D5C1F4"/><rect x="1143.29" y="1860.06" width="118.17" height="40.03" fill="#DBCBF3"/><rect x="1260.96" y="1860.06" width="118.17" height="40.03" fill="#AD86F9"/><rect x="1378.63" y="1860.06" width="235.34" height="40.03" fill="#B490F9"/>
<rect x="319.60" y="1899.59" width="118.17" height="40.03" fill="#FF6C4B"/><rect x="437.27" y="1899.59" width="118.17" height="40.03" fill="#FF3D21"/><rect x="554.94" y="1899.59" width="118.17" height="40.03" fill="#F5E3DE"/><rect x="672.61" y="1899.59" width="118.17" height="40.03" fill="#F2E6E3"/><rect x="790.28" y="1899.59" width="118.17" height="40.03" fill="#FFBFAD"/><rect x="907.95" y="1899.59" width="118.17" height="40.03" fill="#B895F8"/><rect x="1025.62" y="1899.59" width="118.17" height="40.03" fill="#DBCBF3"/><rect x="1143.29" y="1899.59" width="118.17" height="40.03" fill="#A57DFA"/><rect x="1260.96" y="1899.59" width="235.84" height="40.03" fill="#C2A4F7"/><rect x="1496.30" y="1899.59" width="117.67" height="40.03" fill="#D5C1F4"/>
<rect x="319.60" y="1939.12" width="118.17" height="40.03" fill="#FF5C3C"/><rect x="437.27" y="1939.12" width="118.17" height="40.03" fill="#FF5737"/><rect x="554.94" y="1939.12" width="118.17" height="40.03" fill="#F7DFD8"/><rect x="672.61" y="1939.12" width="118.17" height="40.03" fill="#F8DBD3"/><rect x="790.28" y="1939.12" width="118.17" height="40.03" fill="#FFBFAD"/><rect x="907.95" y="1939.12" width="118.17" height="40.03" fill="#A178FA"/><rect x="1025.62" y="1939.12" width="235.84" height="40.03" fill="#BB9AF8"/><rect x="1260.96" y="1939.12" width="118.17" height="40.03" fill="#CCB2F5"/><rect x="1378.63" y="1939.12" width="118.17" height="40.03" fill="#DBCBF3"/><rect x="1496.30" y="1939.12" width="117.67" height="40.03" fill="#CFB7F5"/>
<rect x="319.60" y="1978.65" width="118.17" height="40.03" fill="#FF9579"/><rect x="437.27" y="1978.65" width="118.17" height="40.03" fill="#FF6241"/><rect x="554.94" y="1978.65" width="118.17" height="40.03" fill="#FFBBA8"/><rect x="672.61" y="1978.65" width="118.17" height="40.03" fill="#E6DFF0"/><rect x="790.28" y="1978.65" width="118.17" height="40.03" fill="#FF9579"/><rect x="907.95" y="1978.65" width="118.17" height="40.03" fill="#996EFB"/><rect x="1025.62" y="1978.65" width="118.17" height="40.03" fill="#BF9FF7"/><rect x="1143.29" y="1978.65" width="118.17" height="40.03" fill="#9469FB"/><rect x="1260.96" y="1978.65" width="118.17" height="40.03" fill="#F5E3DE"/><rect x="1378.63" y="1978.65" width="118.17" height="40.03" fill="#D8C6F3"/><rect x="1496.30" y="1978.65" width="117.67" height="40.03" fill="#C8ADF6"/>
<rect x="319.60" y="2018.18" width="118.17" height="40.03" fill="#FFBFAD"/><rect x="437.27" y="2018.18" width="118.17" height="40.03" fill="#FF4427"/><rect x="554.94" y="2018.18" width="118.17" height="40.03" fill="#FFA288"/><rect x="672.61" y="2018.18" width="118.17" height="40.03" fill="#F8DBD3"/><rect x="790.28" y="2018.18" width="118.17" height="40.03" fill="#FFA288"/><rect x="907.95" y="2018.18" width="353.51" height="40.03" fill="#A982FA"/><rect x="1260.96" y="2018.18" width="118.17" height="40.03" fill="#D8C6F3"/><rect x="1378.63" y="2018.18" width="118.17" height="40.03" fill="#C8ADF6"/><rect x="1496.30" y="2018.18" width="117.67" height="40.03" fill="#D5C1F4"/>
<rect x="319.60" y="2057.71" width="118.17" height="40.03" fill="#FF5737"/><rect x="437.27" y="2057.71" width="118.17" height="40.03" fill="#FF4427"/><rect x="554.94" y="2057.71" width="118.17" height="40.03" fill="#F5E3DE"/><rect x="672.61" y="2057.71" width="118.17" height="40.03" fill="#FDCFC2"/><rect x="790.28" y="2057.71" width="118.17" height="40.03" fill="#D2BCF4"/><rect x="907.95" y="2057.71" width="118.17" height="40.03" fill="#BB9AF8"/><rect x="1025.62" y="2057.71" width="118.17" height="40.03" fill="#B18BF9"/><rect x="1143.29" y="2057.71" width="118.17" height="40.03" fill="#CCB2F5"/><rect x="1260.96" y="2057.71" width="118.17" height="40.03" fill="#E6DFF0"/><rect x="1378.63" y="2057.71" width="118.17" height="40.03" fill="#DED0F2"/><rect x="1496.30" y="2057.71" width="117.67" height="40.03" fill="#B18BF9"/>
<rect x="319.60" y="2097.24" width="118.17" height="40.03" fill="#FF5737"/><rect x="437.27" y="2097.24" width="118.17" height="40.03" fill="#FF3D21"/><rect x="554.94" y="2097.24" width="118.17" height="40.03" fill="#D8C6F3"/><rect x="672.61" y="2097.24" width="118.17" height="40.03" fill="#F7DFD8"/><rect x="790.28" y="2097.24" width="118.17" height="40.03" fill="#EBE9EF"/><rect x="907.95" y="2097.24" width="118.17" height="40.03" fill="#E9E4EF"/><rect x="1025.62" y="2097.24" width="118.17" height="40.03" fill="#D5C1F4"/><rect x="1143.29" y="2097.24" width="118.17" height="40.03" fill="#DBCBF3"/><rect x="1260.96" y="2097.24" width="118.17" height="40.03" fill="#BF9FF7"/><rect x="1378.63" y="2097.24" width="118.17" height="40.03" fill="#C2A4F7"/><rect x="1496.30" y="2097.24" width="117.67" height="40.03" fill="#A57DFA"/>
<rect x="319.60" y="2136.77" width="118.17" height="40.03" fill="#FF6241"/><rect x="437.27" y="2136.77" width="118.17" height="40.03" fill="#FFC3B2"/><rect x="554.94" y="2136.77" width="118.17" height="40.03" fill="#F7DFD8"/><rect x="672.61" y="2136.77" width="118.17" height="40.03" fill="#FAD7CD"/><rect x="790.28" y="2136.77" width="118.17" height="40.03" fill="#FFB6A2"/><rect x="907.95" y="2136.77" width="118.17" height="40.03" fill="#C2A4F7"/><rect x="1025.62" y="2136.77" width="118.17" height="40.03" fill="#9D73FB"/><rect x="1143.29" y="2136.77" width="118.17" height="40.03" fill="#FFA288"/><rect x="1260.96" y="2136.77" width="118.17" height="40.03" fill="#C5A9F6"/><rect x="1378.63" y="2136.77" width="118.17" height="40.03" fill="#F2E6E3"/><rect x="1496.30" y="2136.77" width="117.67" height="40.03" fill="#774BFD"/>
<rect x="319.60" y="2176.30" width="118.17" height="40.03" fill="#E9E4EF"/><rect x="437.27" y="2176.30" width="118.17" height="40.03" fill="#FF230F"/><rect x="554.94" y="2176.30" width="118.17" height="40.03" fill="#C5A9F6"/><rect x="672.61" y="2176.30" width="118.17" height="40.03" fill="#FFBFAD"/><rect x="790.28" y="2176.30" width="118.17" height="40.03" fill="#C5A9F6"/><rect x="907.95" y="2176.30" width="118.17" height="40.03" fill="#9064FC"/><rect x="1025.62" y="2176.30" width="118.17" height="40.03" fill="#FFA288"/><rect x="1143.29" y="2176.30" width="118.17" height="40.03" fill="#FFC3B2"/><rect x="1260.96" y="2176.30" width="118.17" height="40.03" fill="#E9E4EF"/><rect x="1378.63" y="2176.30" width="118.17" height="40.03" fill="#C2A4F7"/><rect x="1496.30" y="2176.30" width="117.67" height="40.03" fill="#C8ADF6"/>
<rect x="319.60" y="2215.83" width="118.17" height="40.03" fill="#CCB2F5"/><rect x="437.27" y="2215.83" width="118.17" height="40.03" fill="#FF8869"/><rect x="554.94" y="2215.83" width="235.84" height="40.03" fill="#CCB2F5"/><rect x="790.28" y="2215.83" width="118.17" height="40.03" fill="#FF5131"/><rect x="907.95" y="2215.83" width="353.51" height="40.03" fill="#CCB2F5"/><rect x="1260.96" y="2215.83" width="118.17" height="40.03" fill="#FF6746"/><rect x="1378.63" y="2215.83" width="235.34" height="40.03" fill="#CCB2F5"/>
<rect x="319.60" y="2255.36" width="118.17" height="40.03" fill="#B18BF9"/><rect x="437.27" y="2255.36" width="118.17" height="40.03" fill="#E0D5F1"/><rect x="554.94" y="2255.36" width="118.17" height="40.03" fill="#EDECEE"/><rect x="672.61" y="2255.36" width="118.17" height="40.03" fill="#E9E4EF"/><rect x="790.28" y="2255.36" width="118.17" height="40.03" fill="#FFA288"/><rect x="907.95" y="2255.36" width="118.17" height="40.03" fill="#B18BF9"/><rect x="1025.62" y="2255.36" width="118.17" height="40.03" fill="#F0EAE9"/><rect x="1143.29" y="2255.36" width="118.17" height="40.03" fill="#B18BF9"/><rect x="1260.96" y="2255.36" width="118.17" height="40.03" fill="#FF6746"/><rect x="1378.63" y="2255.36" width="118.17" height="40.03" fill="#FF6241"/><rect x="1496.30" y="2255.36" width="117.67" height="40.03" fill="#B18BF9"/>
<rect x="319.60" y="2294.89" width="118.17" height="40.03" fill="#C8ADF6"/><rect x="437.27" y="2294.89" width="118.17" height="40.03" fill="#FF8869"/><rect x="554.94" y="2294.89" width="118.17" height="40.03" fill="#FF5131"/><rect x="672.61" y="2294.89" width="706.52" height="40.03" fill="#CCB2F5"/><rect x="1378.63" y="2294.89" width="118.17" height="40.03" fill="#FF6241"/><rect x="1496.30" y="2294.89" width="117.67" height="40.03" fill="#CCB2F5"/>
<rect x="319.60" y="2334.42" width="118.17" height="40.03" fill="#FFA68D"/><rect x="437.27" y="2334.42" width="118.17" height="40.03" fill="#DBCBF3"/><rect x="554.94" y="2334.42" width="118.17" height="40.03" fill="#FF997E"/><rect x="672.61" y="2334.42" width="118.17" height="40.03" fill="#F5E3DE"/><rect x="790.28" y="2334.42" width="118.17" height="40.03" fill="#FF6C4B"/><rect x="907.95" y="2334.42" width="118.17" height="40.03" fill="#A982FA"/><rect x="1025.62" y="2334.42" width="118.17" height="40.03" fill="#8155FD"/><rect x="1143.29" y="2334.42" width="118.17" height="40.03" fill="#9064FC"/><rect x="1260.96" y="2334.42" width="235.84" height="40.03" fill="#FAD7CD"/><rect x="1496.30" y="2334.42" width="117.67" height="40.03" fill="#F2E6E3"/>
<rect x="319.60" y="2373.95" width="118.17" height="40.03" fill="#FF9579"/><rect x="437.27" y="2373.95" width="118.17" height="40.03" fill="#FFA68D"/><rect x="554.94" y="2373.95" width="118.17" height="40.03" fill="#FF9579"/><rect x="672.61" y="2373.95" width="118.17" height="40.03" fill="#FFC3B2"/><rect x="790.28" y="2373.95" width="118.17" height="40.03" fill="#FFBBA8"/><rect x="907.95" y="2373.95" width="118.17" height="40.03" fill="#8B5FFC"/><rect x="1025.62" y="2373.95" width="118.17" height="40.03" fill="#9064FC"/><rect x="1143.29" y="2373.95" width="118.17" height="40.03" fill="#996EFB"/><rect x="1260.96" y="2373.95" width="118.17" height="40.03" fill="#DED0F2"/><rect x="1378.63" y="2373.95" width="118.17" height="40.03" fill="#F0EAE9"/><rect x="1496.30" y="2373.95" width="117.67" height="40.03" fill="#EEEEEE"/>
<rect x="319.60" y="2413.48" width="118.17" height="40.03" fill="#FF9E83"/><rect x="437.27" y="2413.48" width="118.17" height="40.03" fill="#FFA288"/><rect x="554.94" y="2413.48" width="118.17" height="40.03" fill="#FFBFAD"/><rect x="672.61" y="2413.48" width="118.17" height="40.03" fill="#FF997E"/><rect x="790.28" y="2413.48" width="118.17" height="40.03" fill="#FFA68D"/><rect x="907.95" y="2413.48" width="118.17" height="40.03" fill="#865AFC"/><rect x="1025.62" y="2413.48" width="118.17" height="40.03" fill="#A982FA"/><rect x="1143.29" y="2413.48" width="118.17" height="40.03" fill="#996EFB"/><rect x="1260.96" y="2413.48" width="235.84" height="40.03" fill="#D8C6F3"/><rect x="1496.30" y="2413.48" width="117.67" height="40.03" fill="#EBE9EF"/>
<rect x="319.60" y="2453.01" width="118.17" height="40.03" fill="#FF8364"/><rect x="437.27" y="2453.01" width="118.17" height="40.03" fill="#FF997E"/><rect x="554.94" y="2453.01" width="118.17" height="40.03" fill="#FFC3B2"/><rect x="672.61" y="2453.01" width="118.17" height="40.03" fill="#FFAE98"/><rect x="790.28" y="2453.01" width="118.17" height="40.03" fill="#FFBBA8"/><rect x="907.95" y="2453.01" width="235.84" height="40.03" fill="#996EFB"/><rect x="1143.29" y="2453.01" width="118.17" height="40.03" fill="#8B5FFC"/><rect x="1260.96" y="2453.01" width="118.17" height="40.03" fill="#E3DAF1"/><rect x="1378.63" y="2453.01" width="118.17" height="40.03" fill="#E6DFF0"/><rect x="1496.30" y="2453.01" width="117.67" height="40.03" fill="#DED0F2"/>
<rect x="319.60" y="2492.54" width="118.17" height="40.03" fill="#E3DAF1"/><rect x="437.27" y="2492.54" width="118.17" height="40.03" fill="#FFC7B8"/><rect x="554.94" y="2492.54" width="118.17" height="40.03" fill="#FF6746"/><rect x="672.61" y="2492.54" width="118.17" height="40.03" fill="#FFC7B8"/><rect x="790.28" y="2492.54" width="118.17" height="40.03" fill="#FF9174"/><rect x="907.95" y="2492.54" width="118.17" height="40.03" fill="#A982FA"/><rect x="1025.62" y="2492.54" width="118.17" height="40.03" fill="#BB9AF8"/><rect x="1143.29" y="2492.54" width="118.17" height="40.03" fill="#6B40FD"/><rect x="1260.96" y="2492.54" width="118.17" height="40.03" fill="#FCD3C8"/><rect x="1378.63" y="2492.54" width="118.17" height="40.03" fill="#CCB2F5"/><rect x="1496.30" y="2492.54" width="117.67" height="40.03" fill="#FDCFC2"/>
<rect x="319.60" y="2532.07" width="118.17" height="39.53" fill="#DED0F2"/><rect x="437.27" y="2532.07" width="118.17" height="39.53" fill="#E9E4EF"/><rect x="554.94" y="2532.07" width="118.17" height="39.53" fill="#FFB6A2"/><rect x="672.61" y="2532.07" width="118.17" height="39.53" fill="#F8DBD3"/><rect x="790.28" y="2532.07" width="118.17" height="39.53" fill="#FF9E83"/><rect x="907.95" y="2532.07" width="118.17" height="39.53" fill="#B490F9"/><rect x="1025.62" y="2532.07" width="118.17" height="39.53" fill="#C8ADF6"/><rect x="1143.29" y="2532.07" width="118.17" height="39.53" fill="#1807FF"/><rect x="1260.96" y="2532.07" width="118.17" height="39.53" fill="#FFCBBD"/><rect x="1378.63" y="2532.07" width="118.17" height="39.53" fill="#FCD3C8"/><rect x="1496.30" y="2532.07" width="117.67" height="39.53" fill="#FF7655"/>
</g>
<path d="M312.6 298.6H291.2V338.2H312.6M312.6 259.1H268.8V318.4H291.2M312.6 377.7H270.8V417.2H312.6M268.8 288.7H261.0V397.5H270.8M312.6 219.6H252.4V343.1H261.0M312.6 535.8H281.4V575.3H312.6M312.6 496.3H262.7V555.6H281.4M312.6 456.7H248.8V525.9H262.7M252.4 281.3H211.0V491.3H248.8M211.0 386.3H197.0V614.9H312.6M312.6 693.9H270.8V733.5H312.6M312.6 654.4H240.6V713.7H270.8M312.6 812.5H247.3V852.0H312.6M312.6 773.0H238.2V832.3H247.3M240.6 684.0H207.1V802.6H238.2M197.0 500.6H181.6V743.3H207.1M312.6 891.6H246.0V931.1H312.6M246.0 911.3H239.2V970.6H312.6M312.6 1049.7H269.2V1089.2H312.6M312.6 1010.2H243.9V1069.5H269.2M312.6 1128.8H276.1V1168.3H312.6M276.1 1148.5H251.8V1207.8H312.6M243.9 1039.8H225.5V1178.2H251.8M312.6 1247.3H287.1V1286.9H312.6M312.6 1326.4H258.6V1365.9H312.6M287.1 1267.1H243.5V1346.2H258.6M225.5 1109.0H209.2V1306.6H243.5M239.2 941.0H193.7V1207.8H209.2M312.6 1405.5H229.6V1445.0H312.6M312.6 1484.5H244.9V1524.1H312.6M229.6 1425.2H223.1V1504.3H244.9M193.7 1074.4H172.6V1464.8H223.1M181.6 622.0H162.0V1269.6H172.6M312.6 1603.1H246.9V1642.6H312.6M312.6 1682.2H247.3V1721.7H312.6M246.9 1622.9H235.1V1701.9H247.3M312.6 1563.6H209.2V1662.4H235.1M312.6 1761.2H283.1V1800.8H312.6M312.6 1840.3H270.8V1879.8H312.6M283.1 1781.0H260.0V1860.1H270.8M312.6 1919.4H290.2V1958.9H312.6M312.6 1998.4H285.5V2037.9H312.6M290.2 1939.1H272.9V2018.2H285.5M260.0 1820.5H239.2V1978.6H272.9M312.6 2077.5H276.9V2117.0H312.6M276.9 2097.2H249.0V2156.5H312.6M239.2 1899.6H227.3V2126.9H249.0M227.3 2013.2H211.6V2196.1H312.6M209.2 1613.0H194.9V2104.7H211.6M312.6 2235.6H235.7V2275.1H312.6M312.6 2433.2H292.7V2472.8H312.6M312.6 2393.7H287.1V2453.0H292.7M312.6 2354.2H259.6V2423.4H287.1M312.6 2512.3H269.2V2551.8H312.6M259.6 2388.8H239.2V2532.1H269.2M312.6 2314.7H214.1V2460.4H239.2M235.7 2255.4H200.4V2387.5H214.1M194.9 1858.8H184.7V2321.4H200.4M162.0 945.8H159.4V2090.1H184.7M378.4 193.2V123.9H496.1V193.2M613.8 193.2V125.5H731.4V193.2M672.6 125.5V118.2H849.1V193.2M437.3 123.9V99.1H760.9V118.2M966.8 193.2V108.0H1084.5V193.2M1025.6 108.0V90.2H1202.1V193.2M1319.8 193.2V126.3H1437.5V193.2M1378.6 126.3V116.2H1555.1V193.2M1113.9 90.2V60.6H1466.9V116.2M599.1 99.1V46.8H1290.4V60.6" fill="none" stroke="#000" stroke-width="3.4" stroke-linejoin="round"/>
<g id="rowlabels" font-size="44.80" lengthAdjust="spacingAndGlyphs">
<text x="1628.9" y="235.3" textLength="330.2" lengthAdjust="spacingAndGlyphs">RAB14 - 9q33.2</text>
<text x="1628.9" y="274.8" textLength="327.3" lengthAdjust="spacingAndGlyphs">DTX2 - 7q11.23</text>
<text x="1628.9" y="314.3" textLength="391.0" lengthAdjust="spacingAndGlyphs">SUPT5H - 19q13.2</text>
<text x="1628.9" y="353.9" textLength="352.9" lengthAdjust="spacingAndGlyphs">STAT3 - 17q21.2</text>
<text x="1628.9" y="393.4" textLength="359.7" lengthAdjust="spacingAndGlyphs">SEC16A - 9q34.3</text>
<text x="1628.9" y="432.9" textLength="372.6" lengthAdjust="spacingAndGlyphs">MTMR3 - 22q12.2</text>
<text x="1628.9" y="472.4" textLength="394.6" lengthAdjust="spacingAndGlyphs">RNASE7 - 14q11.2</text>
<text x="1628.9" y="512.0" textLength="317.0" lengthAdjust="spacingAndGlyphs">FKBP15 - 9q32</text>
<text x="1628.9" y="551.5" textLength="394.0" lengthAdjust="spacingAndGlyphs">CAPNS2 - 16q12.2</text>
<text x="1628.9" y="591.0" textLength="298.8" lengthAdjust="spacingAndGlyphs">TINF2 - 14q12</text>
<text x="1628.9" y="630.6" textLength="298.3" lengthAdjust="spacingAndGlyphs">C4A - 6p21.33</text>
<text x="1628.9" y="670.1" textLength="300.0" lengthAdjust="spacingAndGlyphs">MIOS - 7p21.3</text>
<text x="1628.9" y="709.6" textLength="295.5" lengthAdjust="spacingAndGlyphs">PDE5A - 4q26</text>
<text x="1628.9" y="749.2" textLength="300.5" lengthAdjust="spacingAndGlyphs">SMAP1 - 6q13</text>
<text x="1628.9" y="788.7" textLength="330.2" lengthAdjust="spacingAndGlyphs">KPNA5 - 6q22.1</text>
<text x="1628.9" y="828.2" textLength="329.8" lengthAdjust="spacingAndGlyphs">HSPA4 - 5q31.1</text>
<text x="1628.9" y="867.7" textLength="301.6" lengthAdjust="spacingAndGlyphs">NUB1 - 7q36.1</text>
<text x="1628.9" y="907.3" textLength="296.4" lengthAdjust="spacingAndGlyphs">PPL - 16p13.3</text>
<text x="1628.9" y="946.8" textLength="299.3" lengthAdjust="spacingAndGlyphs">TREX2 - Xq28</text>
<text x="1628.9" y="986.3" textLength="294.5" lengthAdjust="spacingAndGlyphs">HAL - 12q23.1</text>
<text x="1628.9" y="1025.9" textLength="357.5" lengthAdjust="spacingAndGlyphs">CBR1 - 21q22.12</text>
<text x="1628.9" y="1065.4" textLength="268.7" lengthAdjust="spacingAndGlyphs">C3 - 19p13.3</text>
<text x="1628.9" y="1104.9" textLength="303.2" lengthAdjust="spacingAndGlyphs">CPA4 - 7q32.2</text>
<text x="1628.9" y="1144.5" textLength="370.6" lengthAdjust="spacingAndGlyphs">WDR24 - 16p13.3</text>
<text x="1628.9" y="1184.0" textLength="300.9" lengthAdjust="spacingAndGlyphs">WASF1 - 6q21</text>
<text x="1628.9" y="1223.5" textLength="362.4" lengthAdjust="spacingAndGlyphs">TYMP - 22q13.33</text>
<text x="1628.9" y="1263.0" textLength="341.8" lengthAdjust="spacingAndGlyphs">HMGCS1 - 5p12</text>
<text x="1628.9" y="1302.6" textLength="372.6" lengthAdjust="spacingAndGlyphs">HMOX1 - 22q12.3</text>
<text x="1628.9" y="1342.1" textLength="356.6" lengthAdjust="spacingAndGlyphs">HSPA8 - 11q24.1</text>
<text x="1628.9" y="1381.6" textLength="352.5" lengthAdjust="spacingAndGlyphs">PATZ1 - 22q12.2</text>
<text x="1628.9" y="1421.2" textLength="376.0" lengthAdjust="spacingAndGlyphs">A2ML1 - 12p13.31</text>
<text x="1628.9" y="1460.7" textLength="398.0" lengthAdjust="spacingAndGlyphs">NCCRP1 - 19q13.2</text>
<text x="1628.9" y="1500.2" textLength="235.2" lengthAdjust="spacingAndGlyphs">TF - 3q22.1</text>
<text x="1628.9" y="1539.8" textLength="309.4" lengthAdjust="spacingAndGlyphs">KPRP - 1q21.3</text>
<text x="1628.9" y="1579.3" textLength="410.3" lengthAdjust="spacingAndGlyphs">ALOX12B - 17p13.1</text>
<text x="1628.9" y="1618.8" textLength="424.5" lengthAdjust="spacingAndGlyphs">NADSYN1 - 11q13.4</text>
<text x="1628.9" y="1658.3" textLength="383.1" lengthAdjust="spacingAndGlyphs">TXNL4B - 16q22.2</text>
<text x="1628.9" y="1697.9" textLength="352.3" lengthAdjust="spacingAndGlyphs">SCPEP1 - 17q22</text>
<text x="1628.9" y="1737.4" textLength="385.4" lengthAdjust="spacingAndGlyphs">PLSCR3 - 17p13.1</text>
<text x="1628.9" y="1776.9" textLength="412.6" lengthAdjust="spacingAndGlyphs">HSP90AB1 - 6p21.1</text>
<text x="1628.9" y="1816.5" textLength="251.8" lengthAdjust="spacingAndGlyphs">VIM - 10p13</text>
<text x="1628.9" y="1856.0" textLength="351.1" lengthAdjust="spacingAndGlyphs">LCP1 - 13q14.13</text>
<text x="1628.9" y="1895.5" textLength="385.5" lengthAdjust="spacingAndGlyphs">ANXA8 - 10q11.22</text>
<text x="1628.9" y="1935.1" textLength="304.0" lengthAdjust="spacingAndGlyphs">UBA6 - 4q13.2</text>
<text x="1628.9" y="1974.6" textLength="310.0" lengthAdjust="spacingAndGlyphs">RAI14 - 5p13.2</text>
<text x="1628.9" y="2014.1" textLength="328.9" lengthAdjust="spacingAndGlyphs">POT1 - 7q31.33</text>
<text x="1628.9" y="2053.6" textLength="298.9" lengthAdjust="spacingAndGlyphs">BLM - 15q26.1</text>
<text x="1628.9" y="2093.2" textLength="359.7" lengthAdjust="spacingAndGlyphs">EDRF1 - 10q26.2</text>
<text x="1628.9" y="2132.7" textLength="464.3" lengthAdjust="spacingAndGlyphs">HSP90AA1 - 14q32.31</text>
<text x="1628.9" y="2172.2" textLength="334.3" lengthAdjust="spacingAndGlyphs">RAB5A - 3p24.3</text>
<text x="1628.9" y="2211.8" textLength="321.9" lengthAdjust="spacingAndGlyphs">LCN2 - 9q34.11</text>
<text x="1628.9" y="2251.3" textLength="269.4" lengthAdjust="spacingAndGlyphs">IL37 - 2q14.1</text>
<text x="1628.9" y="2290.8" textLength="462.7" lengthAdjust="spacingAndGlyphs">SERPINB4 - 18q21.33</text>
<text x="1628.9" y="2330.4" textLength="434.9" lengthAdjust="spacingAndGlyphs">SULT2B1 - 19q13.33</text>
<text x="1628.9" y="2369.9" textLength="251.2" lengthAdjust="spacingAndGlyphs">IVL - 1q21.3</text>
<text x="1628.9" y="2409.4" textLength="316.3" lengthAdjust="spacingAndGlyphs">TP53 - 17p13.1</text>
<text x="1628.9" y="2448.9" textLength="272.7" lengthAdjust="spacingAndGlyphs">FLG - 1q21.3</text>
<text x="1628.9" y="2488.5" textLength="362.8" lengthAdjust="spacingAndGlyphs">SUCLG2 - 3p14.1</text>
<text x="1628.9" y="2528.0" textLength="301.6" lengthAdjust="spacingAndGlyphs">ACD - 16q22.1</text>
<text x="1628.9" y="2567.5" textLength="361.5" lengthAdjust="spacingAndGlyphs">HERC2 - 15q13.1</text>
</g>
<g id="collabels" font-size="63.00">
<text transform="translate(38.6 2955.6) rotate(-43.5)" textLength="488.4" lengthAdjust="spacingAndGlyphs">non_transd_ctrl-2</text>
<text transform="translate(156.3 2955.6) rotate(-43.5)" textLength="488.4" lengthAdjust="spacingAndGlyphs">non_transd_ctrl-3</text>
<text transform="translate(351.9 2881.7) rotate(-43.5)" textLength="381.0" lengthAdjust="spacingAndGlyphs">AAV9_GFP-1</text>
<text transform="translate(469.6 2881.7) rotate(-43.5)" textLength="381.0" lengthAdjust="spacingAndGlyphs">AAV9_GFP-2</text>
<text transform="translate(587.2 2881.7) rotate(-43.5)" textLength="381.0" lengthAdjust="spacingAndGlyphs">AAV9_GFP-3</text>
<text transform="translate(627.7 2954.9) rotate(-43.5)" textLength="487.4" lengthAdjust="spacingAndGlyphs">AAV9_AIPL1wt-1</text>
<text transform="translate(745.4 2954.9) rotate(-43.5)" textLength="487.4" lengthAdjust="spacingAndGlyphs">AAV9_AIPL1wt-3</text>
<text transform="translate(863.1 2954.9) rotate(-43.5)" textLength="487.4" lengthAdjust="spacingAndGlyphs">AAV9_AIPL1wt-2</text>
<text transform="translate(978.3 2957.2) rotate(-43.5)" textLength="490.8" lengthAdjust="spacingAndGlyphs">AAV9_AIPL1co-1</text>
<text transform="translate(1096.0 2957.2) rotate(-43.5)" textLength="490.8" lengthAdjust="spacingAndGlyphs">AAV9_AIPL1co-2</text>
<text transform="translate(1213.6 2957.2) rotate(-43.5)" textLength="490.8" lengthAdjust="spacingAndGlyphs">AAV9_AIPL1co-3</text>
</g>
<defs><linearGradient id="lg" x1="0" y1="0" x2="0" y2="1"><stop offset="0" stop-color="#FF351B"/><stop offset="0.0405" stop-color="#FF351B"/><stop offset="0.0635" stop-color="#FF4427"/><stop offset="0.0865" stop-color="#FF5131"/><stop offset="0.1095" stop-color="#FF5C3C"/><stop offset="0.1326" stop-color="#FF6746"/><stop offset="0.1556" stop-color="#FF7150"/><stop offset="0.1786" stop-color="#FF7A5A"/><stop offset="0.2016" stop-color="#FF8364"/><stop offset="0.2247" stop-color="#FF8C6E"/><stop offset="0.2477" stop-color="#FF9579"/><stop offset="0.2707" stop-color="#FF9E83"/><stop offset="0.2937" stop-color="#FFA68D"/><stop offset="0.3168" stop-color="#FFAE98"/><stop offset="0.3398" stop-color="#FFB6A2"/><stop offset="0.3628" stop-color="#FFBFAD"/><stop offset="0.3858" stop-color="#FFC7B8"/><stop offset="0.4089" stop-color="#FDCFC2"/><stop offset="0.4319" stop-color="#FAD7CD"/><stop offset="0.4549" stop-color="#F7DFD8"/><stop offset="0.4779" stop-color="#F2E6E3"/><stop offset="0.5010" stop-color="#EEEEEE"/><stop offset="0.5240" stop-color="#E9E4EF"/><stop offset="0.5470" stop-color="#E3DAF1"/><stop offset="0.5700" stop-color="#DED0F2"/><stop offset="0.5931" stop-color="#D8C6F3"/><stop offset="0.6161" stop-color="#D2BCF4"/><stop offset="0.6391" stop-color="#CCB2F5"/><stop offset="0.6621" stop-color="#C5A9F6"/><stop offset="0.6852" stop-color="#BF9FF7"/><stop offset="0.7082" stop-color="#B895F8"/><stop offset="0.7312" stop-color="#B18BF9"/><stop offset="0.7542" stop-color="#A982FA"/><stop offset="0.7773" stop-color="#A178FA"/><stop offset="0.8003" stop-color="#996EFB"/><stop offset="0.8233" stop-color="#9064FC"/><stop offset="0.8463" stop-color="#865AFC"/><stop offset="0.8694" stop-color="#7C50FD"/><stop offset="0.8924" stop-color="#7146FD"/><stop offset="0.9154" stop-color="#643BFE"/><stop offset="0.9384" stop-color="#562FFE"/><stop offset="0.9615" stop-color="#4422FE"/><stop offset="1" stop-color="#4422FE"/></linearGradient></defs>
<rect x="2179.3" y="1262.7" width="65.0" height="311.3" fill="url(#lg)"/>
<path d="M2179.3 1275.3h16M2244.3 1275.3h-16M2179.3 1346.9h16M2244.3 1346.9h-16M2179.3 1418.6h16M2244.3 1418.6h-16M2179.3 1490.3h16M2244.3 1490.3h-16M2179.3 1562.0h16M2244.3 1562.0h-16" stroke="#fff" stroke-width="3.1" fill="none"/>
<g id="legend" font-size="50.0">
<text x="2179.0" y="1236.3" font-size="52" font-weight="bold" textLength="193.5" lengthAdjust="spacingAndGlyphs">Z.score</text>
<text x="2257.0" y="1295.2" font-size="54.5">2</text>
<text x="2257.0" y="1366.8" font-size="54.5">1</text>
<text x="2257.0" y="1438.5" font-size="54.5">0</text>
<text x="2257.0" y="1510.2" font-size="54.5">-1</text>
<text x="2257.0" y="1581.9" font-size="54.5">-2</text>
</g>
</svg>
</body></html>
